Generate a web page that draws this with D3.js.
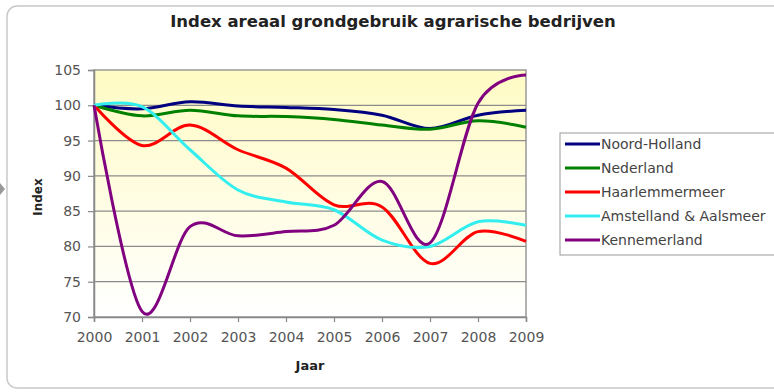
<!DOCTYPE html>
<html>
<head>
<meta charset="utf-8">
<script src="https://cdn.jsdelivr.net/npm/d3@7"></script>
<style>
body { margin: 0; background: #fff; }
text { font-family: "DejaVu Sans", Verdana, sans-serif; }
</style>
</head>
<body>
<svg id="chart"></svg>
<script>
var width = 774;
var height = 392;

var years = [2000, 2001, 2002, 2003, 2004, 2005, 2006, 2007, 2008, 2009];
var yTicks = [70, 75, 80, 85, 90, 95, 100, 105];

var seriesNames = ["Noord-Holland", "Nederland", "Haarlemmermeer", "Amstelland & Aalsmeer", "Kennemerland"];
var seriesColors = ["#000080", "#008000", "#ff0000", "#33eeee", "#800080"];

var noordHolland = [100, 99.5, 100.5, 99.9, 99.7, 99.4, 98.6, 96.7, 98.6, 99.3];
var nederland = [100, 98.5, 99.3, 98.5, 98.4, 98.0, 97.2, 96.6, 97.8, 96.9];
var haarlemmermeer = [100, 94.3, 97.2, 93.7, 91.1, 85.9, 85.6, 77.6, 82.1, 80.7];
var amstelland = [100, 99.8, 93.7, 88.0, 86.3, 85.2, 80.9, 80.0, 83.5, 83.0];
var kennemerland = [100, 70.8, 82.8, 81.5, 82.1, 83.0, 89.2, 80.5, 100.3, 104.3];

var allSeries = [noordHolland, nederland, haarlemmermeer, amstelland, kennemerland];

var margin = { left: 94, right: 248, top: 70, bottom: 75 };

var svg = d3.select("#chart").attr("width", width).attr("height", height);

// outer chart frame
svg.append("rect")
    .attr("x", 7).attr("y", 6)
    .attr("width", 800).attr("height", 382)
    .attr("rx", 10)
    .attr("fill", "#fff")
    .attr("stroke", "#c8c8c8")
    .attr("stroke-width", 1.5);

svg.append("path")
    .attr("d", "M0,183 L5,189 L0,195 Z")
    .attr("fill", "#999");

var x = d3.scaleLinear().domain([2000, 2009]).range([margin.left, width - margin.right]);
var y = d3.scaleLinear().domain([70, 105]).range([height - margin.bottom, margin.top]);

var defs = svg.append("defs");
var grad = defs.append("linearGradient").attr("id", "bg").attr("x1", 0).attr("y1", 0).attr("x2", 0).attr("y2", 1);
grad.append("stop").attr("offset", "0%").attr("stop-color", "#fffbc4");
grad.append("stop").attr("offset", "100%").attr("stop-color", "#ffffff");

svg.append("rect")
    .attr("x", x(2000)).attr("y", y(105))
    .attr("width", x(2009) - x(2000)).attr("height", y(70) - y(105))
    .attr("fill", "url(#bg)")
    .attr("stroke", "#999")
    .attr("stroke-width", 1.5);

// gridlines
svg.append("g")
    .selectAll("line")
    .data(yTicks.slice(1, -1))
    .enter().append("line")
    .attr("x1", x(2000)).attr("x2", x(2009))
    .attr("y1", function(d) { return y(d); })
    .attr("y2", function(d) { return y(d); })
    .attr("stroke", "#8c8c8c")
    .attr("stroke-width", 1.2);

var yAxis = svg.append("g")
    .attr("transform", "translate(" + x(2000) + ",0)")
    .call(d3.axisLeft(y).tickValues(yTicks).tickSize(6).tickPadding(7));

var xAxis = svg.append("g")
    .attr("transform", "translate(0," + y(70) + ")")
    .call(d3.axisBottom(x).tickValues(years).tickFormat(d3.format("d")).tickSize(5).tickPadding(10));

[yAxis, xAxis].forEach(function(a) {
    a.select(".domain").attr("stroke", "#888").attr("stroke-width", 1.5);
    a.selectAll(".tick line").attr("stroke", "#888").attr("stroke-width", 1.2);
    a.selectAll(".tick text").attr("fill", "#555").style("font-size", "14px")
        .style("font-family", "'DejaVu Sans', Verdana, sans-serif");
});

var line = d3.line()
    .x(function(d, i) { return x(years[i]); })
    .y(function(d) { return y(d); })
    .curve(d3.curveCatmullRom.alpha(0));

svg.append("g")
    .selectAll("path")
    .data(allSeries)
    .enter().append("path")
    .attr("d", line)
    .attr("fill", "none")
    .attr("stroke", function(d, i) { return seriesColors[i]; })
    .attr("stroke-width", 3)
    .attr("stroke-linejoin", "round");

// title and axis labels
svg.append("text")
    .attr("x", 393).attr("y", 27)
    .attr("text-anchor", "middle")
    .style("font-size", "16.5px").style("font-weight", "bold")
    .attr("fill", "#222")
    .text("Index areaal grondgebruik agrarische bedrijven");

svg.append("text")
    .attr("transform", "translate(42,197) rotate(-90)")
    .attr("text-anchor", "middle")
    .style("font-size", "12px").style("font-weight", "bold")
    .attr("fill", "#222")
    .text("Index");

svg.append("text")
    .attr("x", 310).attr("y", 370)
    .attr("text-anchor", "middle")
    .style("font-size", "13px").style("font-weight", "bold")
    .attr("fill", "#222")
    .text("Jaar");

// legend
var legend = svg.append("g");
legend.append("rect")
    .attr("x", 560).attr("y", 133)
    .attr("width", 230).attr("height", 122)
    .attr("fill", "#fff")
    .attr("stroke", "#999")
    .attr("stroke-width", 1);

var items = legend.selectAll("g.item")
    .data(seriesNames)
    .enter().append("g")
    .attr("class", "item")
    .attr("transform", function(d, i) { return "translate(0," + (144 + i * 24) + ")"; });

items.append("line")
    .attr("x1", 565).attr("x2", 600)
    .attr("stroke", function(d, i) { return seriesColors[i]; })
    .attr("stroke-width", 3);

items.append("text")
    .attr("x", 601).attr("y", 5)
    .style("font-size", "14px")
    .attr("fill", "#444")
    .text(function(d) { return d; });
</script>
</body>
</html>
